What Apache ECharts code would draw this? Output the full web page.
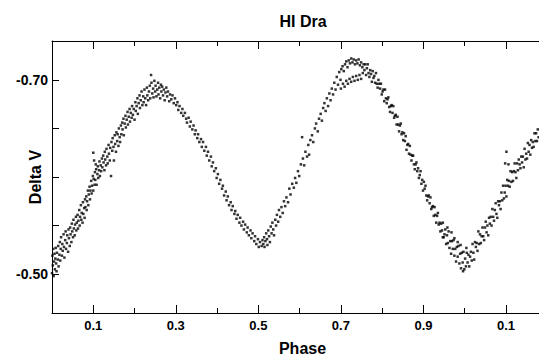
<!DOCTYPE html>
<html><head><meta charset="utf-8">
<script src="https://cdn.jsdelivr.net/npm/echarts@6/dist/echarts.min.js"></script>
<style>html,body{margin:0;padding:0;background:#fff}#c{width:539px;height:362px}</style>
</head><body><div id="c"></div>
<script>
const titleText = 'HI Dra';
const xName = 'Phase';
const yName = 'Delta V';
const xMajorTicks = [0.1, 0.3, 0.5, 0.7, 0.9, 1.1];
const xMinorTicks = [0.2, 0.4, 0.6, 0.8, 1.0];
const yTicks = [-0.70, -0.65, -0.60, -0.55, -0.50];
const yLabels = [-0.70, -0.50];

// [phase, delta V]
const riseToFirstMax = [
[0.000,-0.501],[0.001,-0.519],[0.002,-0.509],[0.003,-0.526],[0.004,-0.498],[0.005,-0.513],[0.006,-0.521],[0.007,-0.505],[0.008,-0.516],[0.009,-0.527],[0.010,-0.511],[0.011,-0.503],[0.012,-0.522],[0.014,-0.515],[0.015,-0.529],[0.016,-0.508],[0.018,-0.520],[0.019,-0.533],[0.020,-0.514],
[0.021,-0.526],[0.022,-0.538],[0.024,-0.519],[0.025,-0.531],[0.026,-0.524],[0.028,-0.541],[0.029,-0.528],[0.030,-0.517],[0.032,-0.535],[0.033,-0.544],[0.034,-0.526],[0.036,-0.532],[0.037,-0.540],[0.039,-0.523],[0.040,-0.546],
[0.041,-0.537],[0.043,-0.529],[0.044,-0.548],[0.045,-0.541],[0.047,-0.533],[0.048,-0.552],[0.049,-0.544],[0.051,-0.538],[0.052,-0.556],[0.053,-0.547],[0.055,-0.540],[0.056,-0.551],[0.058,-0.559],[0.059,-0.545],[0.060,-0.553],
[0.062,-0.561],[0.063,-0.547],[0.064,-0.555],[0.066,-0.566],[0.067,-0.550],[0.068,-0.559],[0.070,-0.571],[0.071,-0.556],[0.072,-0.563],[0.074,-0.553],[0.075,-0.574],[0.076,-0.562],[0.078,-0.568],[0.079,-0.558],[0.080,-0.577],
[0.081,-0.569],[0.083,-0.580],[0.084,-0.566],[0.085,-0.575],[0.087,-0.586],[0.088,-0.571],[0.089,-0.582],[0.091,-0.590],[0.092,-0.577],[0.093,-0.586],[0.095,-0.596],[0.096,-0.583],[0.097,-0.591],[0.099,-0.601],[0.100,-0.586],
[0.100,-0.625],[0.102,-0.617],[0.106,-0.613],
[0.101,-0.598],[0.103,-0.592],[0.104,-0.605],[0.105,-0.597],[0.107,-0.608],[0.108,-0.592],[0.110,-0.603],[0.111,-0.611],[0.112,-0.599],[0.114,-0.607],[0.115,-0.616],[0.116,-0.601],[0.118,-0.612],[0.119,-0.606],[0.121,-0.619],
[0.122,-0.610],[0.124,-0.622],[0.125,-0.615],[0.127,-0.607],[0.128,-0.626],[0.129,-0.618],[0.131,-0.612],[0.132,-0.629],[0.134,-0.621],[0.135,-0.614],[0.137,-0.633],[0.138,-0.624],[0.140,-0.617],[0.141,-0.630],[0.143,-0.601],
[0.144,-0.636],[0.146,-0.627],[0.147,-0.640],[0.149,-0.631],[0.150,-0.617],[0.152,-0.643],[0.153,-0.634],[0.155,-0.626],[0.156,-0.646],[0.158,-0.637],[0.159,-0.644],[0.161,-0.632],[0.162,-0.650],[0.164,-0.641],[0.165,-0.636],[0.167,-0.653],
[0.168,-0.644],[0.170,-0.656],[0.171,-0.649],[0.173,-0.660],[0.174,-0.643],[0.176,-0.655],[0.178,-0.663],[0.179,-0.651],[0.181,-0.659],[0.183,-0.667],[0.184,-0.654],[0.186,-0.662],[0.188,-0.670],[0.189,-0.657],[0.191,-0.666],[0.193,-0.661],[0.194,-0.673],[0.196,-0.664],[0.198,-0.670],[0.200,-0.659],
[0.202,-0.677],[0.203,-0.668],[0.205,-0.673],[0.207,-0.681],[0.208,-0.665],[0.210,-0.676],[0.212,-0.684],[0.213,-0.671],[0.215,-0.679],[0.217,-0.688],[0.219,-0.674],[0.221,-0.683],[0.222,-0.677],[0.224,-0.690],[0.226,-0.681],[0.228,-0.674],[0.230,-0.692],[0.231,-0.684],[0.233,-0.679],[0.235,-0.688]
];
const firstMaximum = [
[0.237,-0.694],[0.238,-0.681],[0.240,-0.705],[0.241,-0.697],[0.243,-0.686],[0.245,-0.691],[0.246,-0.682],[0.248,-0.699],[0.250,-0.688],[0.251,-0.694],[0.253,-0.683],[0.255,-0.690],[0.257,-0.697],[0.258,-0.685],[0.260,-0.692],[0.262,-0.681],[0.264,-0.695],[0.265,-0.688],[0.267,-0.693],[0.269,-0.684],[0.271,-0.690],[0.273,-0.679],[0.275,-0.687],[0.277,-0.692],[0.279,-0.683],[0.281,-0.688],[0.284,-0.678],[0.286,-0.685],[0.289,-0.680],[0.292,-0.684],[0.295,-0.676],[0.298,-0.681]
];
const fallToSecondMin = [
[0.301,-0.674],[0.304,-0.677],[0.306,-0.669],[0.309,-0.673],[0.313,-0.666],[0.316,-0.670],[0.318,-0.663],[0.322,-0.666],[0.325,-0.660],[0.327,-0.656],[0.331,-0.661],[0.334,-0.652],[0.336,-0.657],[0.340,-0.649],[0.343,-0.653],[0.346,-0.644],[0.348,-0.648],[0.352,-0.640],[0.354,-0.644],[0.357,-0.636],[0.361,-0.639],[0.363,-0.631],[0.366,-0.636],[0.369,-0.627],[0.373,-0.631],[0.375,-0.622],[0.378,-0.626],[0.381,-0.617],[0.385,-0.621],[0.387,-0.611],[0.390,-0.615],[0.393,-0.606],[0.397,-0.609],[0.399,-0.599],[0.402,-0.603],[0.405,-0.593],[0.408,-0.597],[0.412,-0.588],[0.414,-0.591],[0.417,-0.581],[0.421,-0.585],[0.423,-0.576],[0.426,-0.580],[0.429,-0.571],[0.433,-0.574],[0.435,-0.566],[0.438,-0.570],[0.442,-0.562],[0.444,-0.565],[0.447,-0.557],[0.450,-0.561],[0.454,-0.553],[0.456,-0.558],[0.459,-0.550],[0.463,-0.554],[0.465,-0.546],[0.468,-0.551],[0.472,-0.543],[0.474,-0.548],[0.477,-0.540],[0.481,-0.545],[0.483,-0.537],[0.486,-0.542],[0.490,-0.534],[0.492,-0.539],[0.495,-0.531],[0.499,-0.536],[0.501,-0.528],[0.504,-0.533],[0.508,-0.529],[0.510,-0.535]
];
const riseToSecondMax = [
[0.512,-0.531],[0.514,-0.538],[0.515,-0.528],[0.517,-0.534],[0.519,-0.542],[0.521,-0.536],[0.522,-0.530],[0.524,-0.545],[0.526,-0.539],[0.528,-0.533],[0.530,-0.549],[0.532,-0.542],[0.534,-0.553],[0.536,-0.546],[0.538,-0.540],[0.541,-0.556],[0.543,-0.550],[0.545,-0.561],[0.548,-0.554],[0.550,-0.566],[0.553,-0.559],[0.556,-0.569],[0.559,-0.563],[0.562,-0.575],[0.565,-0.570],[0.568,-0.579],[0.572,-0.574],[0.575,-0.588],[0.578,-0.582],[0.582,-0.593],[0.586,-0.589],[0.589,-0.599],[0.592,-0.594],[0.596,-0.606],[0.599,-0.601],[0.603,-0.613],[0.606,-0.641],[0.608,-0.619],[0.611,-0.612],[0.614,-0.626],[0.618,-0.621],[0.621,-0.633],[0.623,-0.623],[0.626,-0.638],[0.630,-0.643],[0.633,-0.636],[0.637,-0.650],[0.640,-0.655],[0.644,-0.647],[0.647,-0.660],[0.651,-0.665],[0.654,-0.658],[0.657,-0.671],[0.660,-0.676],[0.663,-0.668],[0.666,-0.681],[0.669,-0.673],[0.672,-0.686],[0.675,-0.679],[0.678,-0.691],[0.681,-0.685],[0.684,-0.697],[0.687,-0.690],[0.690,-0.703],[0.693,-0.695],[0.696,-0.708],[0.699,-0.700]
];
const secondMaxUpper = [
[0.701,-0.711],[0.704,-0.714],[0.707,-0.709],[0.710,-0.716],[0.713,-0.719],[0.716,-0.713],[0.719,-0.720],[0.722,-0.717],[0.725,-0.722],[0.728,-0.718],[0.731,-0.721],[0.734,-0.716],[0.737,-0.720],[0.740,-0.717],[0.743,-0.721],[0.746,-0.715],[0.749,-0.718],[0.752,-0.713],[0.755,-0.716]
];
const secondMaxLower = [
[0.700,-0.691],[0.705,-0.696],[0.709,-0.693],[0.713,-0.699],[0.717,-0.696],[0.721,-0.701],[0.725,-0.698],[0.729,-0.703],[0.733,-0.699],[0.737,-0.704],[0.741,-0.700],[0.745,-0.705],[0.749,-0.701],[0.753,-0.707]
];
const fallToPrimaryMin = [
[0.757,-0.710],[0.759,-0.716],[0.761,-0.705],[0.763,-0.712],[0.765,-0.716],[0.767,-0.707],[0.769,-0.703],[0.771,-0.710],[0.773,-0.706],[0.775,-0.698],[0.777,-0.709],[0.779,-0.702],[0.781,-0.704],[0.783,-0.697],[0.785,-0.707],[0.787,-0.696],[0.789,-0.692],[0.791,-0.700],[0.793,-0.696],[0.795,-0.691],[0.797,-0.696],[0.799,-0.685],[0.801,-0.688],[0.803,-0.690],[0.805,-0.678],[0.807,-0.690],[0.809,-0.681],[0.811,-0.676],[0.813,-0.680],[0.815,-0.682],[0.817,-0.672],[0.819,-0.667],[0.821,-0.673],[0.823,-0.674],[0.825,-0.666],[0.827,-0.673],[0.829,-0.661],[0.831,-0.663],[0.833,-0.664],[0.835,-0.654],[0.837,-0.662],[0.839,-0.654],[0.841,-0.647],[0.843,-0.653],[0.845,-0.655],[0.847,-0.644],[0.849,-0.646],[0.851,-0.638],[0.853,-0.645],[0.855,-0.637],[0.857,-0.642],[0.859,-0.628],[0.861,-0.633],[0.863,-0.634],[0.865,-0.624],[0.867,-0.632],[0.869,-0.623],[0.871,-0.617],[0.873,-0.622],[0.875,-0.622],[0.877,-0.613],[0.879,-0.608],[0.881,-0.613],[0.883,-0.615],[0.885,-0.606],[0.887,-0.609],[0.889,-0.599],[0.891,-0.602],[0.893,-0.606],[0.895,-0.593],[0.897,-0.597],[0.899,-0.586],[0.901,-0.595],[0.903,-0.588],[0.905,-0.591],[0.907,-0.581],[0.909,-0.576],[0.911,-0.580],[0.913,-0.581],[0.915,-0.573],[0.917,-0.579],[0.919,-0.567],[0.921,-0.569],[0.923,-0.570],[0.925,-0.560],[0.927,-0.569],[0.929,-0.561],[0.931,-0.553],[0.933,-0.560],[0.935,-0.563],[0.937,-0.551],[0.939,-0.553],[0.941,-0.544],[0.943,-0.552],[0.945,-0.545],[0.947,-0.553],[0.949,-0.538],[0.951,-0.541],[0.953,-0.546],[0.955,-0.531],[0.957,-0.540],[0.959,-0.532],[0.961,-0.544],[0.963,-0.527],[0.965,-0.534],[0.967,-0.521],[0.969,-0.534],[0.971,-0.526],[0.973,-0.535],[0.975,-0.519],[0.977,-0.526],[0.979,-0.513],[0.981,-0.528],[0.983,-0.518],[0.985,-0.529],[0.987,-0.511],[0.989,-0.521],[0.991,-0.506],[0.993,-0.522],[0.995,-0.512],[0.997,-0.523],[0.999,-0.505],[1.001,-0.516],[1.003,-0.508],[1.005,-0.522],[1.007,-0.512],[1.009,-0.520],[1.011,-0.508],[1.013,-0.518],
[0.968,-0.543],[0.975,-0.537],[0.983,-0.533],[0.990,-0.530],[0.996,-0.503],[1.004,-0.527],[0.958,-0.548],[0.947,-0.538]
];
const riseAfterPrimaryMin = [
[1.015,-0.523],[1.017,-0.514],[1.019,-0.531],[1.021,-0.522],[1.023,-0.515],[1.025,-0.533],[1.027,-0.528],[1.029,-0.532],[1.031,-0.524],[1.033,-0.544],[1.035,-0.531],[1.037,-0.541],[1.039,-0.532],[1.041,-0.539],[1.043,-0.548],[1.045,-0.539],[1.047,-0.535],[1.049,-0.548],[1.051,-0.554],[1.053,-0.543],[1.055,-0.550],[1.057,-0.540],[1.059,-0.558],[1.061,-0.552],[1.063,-0.559],[1.065,-0.550],[1.067,-0.567],[1.069,-0.559],[1.071,-0.555],[1.073,-0.566],[1.075,-0.573],[1.077,-0.562],[1.079,-0.558],[1.081,-0.575],[1.083,-0.571],[1.085,-0.575],[1.087,-0.567],[1.089,-0.584],[1.091,-0.576],[1.093,-0.591],[1.095,-0.578],[1.097,-0.584],[1.099,-0.591],[1.101,-0.626],[1.101,-0.580],[1.098,-0.614],[1.106,-0.613],[1.103,-0.597],[1.105,-0.591],[1.107,-0.596],[1.109,-0.590],[1.111,-0.606],[1.113,-0.595],[1.115,-0.605],[1.117,-0.596],[1.119,-0.606],[1.121,-0.614],[1.123,-0.605],[1.125,-0.599],[1.127,-0.614],[1.129,-0.607],[1.131,-0.618],[1.133,-0.613],[1.135,-0.609],[1.137,-0.621],[1.139,-0.615],[1.141,-0.621],[1.143,-0.610],[1.145,-0.629],[1.147,-0.618],[1.149,-0.624],[1.151,-0.619],[1.153,-0.635],[1.155,-0.626],[1.157,-0.633],[1.159,-0.623],[1.161,-0.638],[1.163,-0.630],[1.165,-0.636],[1.167,-0.631],[1.169,-0.645],[1.171,-0.637],[1.173,-0.645],[1.175,-0.637],[1.177,-0.649],[1.179,-0.641]
];

const points = [].concat(riseToFirstMax, firstMaximum, fallToSecondMin, riseToSecondMax,
  secondMaxUpper, secondMaxLower, fallToPrimaryMin, riseAfterPrimaryMin);

const FONT = '"Liberation Sans", Arial, Helvetica, sans-serif';
const black = '#000';
const xBase = { type: 'value', min: 0, max: 1.18, splitLine: { show: false }, gridIndex: 0 };

const chart = echarts.init(document.getElementById('c'), null, { renderer: 'svg' });
chart.setOption({
  animation: false,
  backgroundColor: '#fff',
  title: {
    text: titleText, left: 298, top: 8, textAlign: 'center',
    textStyle: { fontFamily: FONT, fontWeight: 'bold', fontSize: 16, color: black }
  },
  grid: { left: 52, right: 0, top: 41, bottom: 49, containLabel: false, outerBoundsMode: 'none' },
  xAxis: [
    Object.assign({}, xBase, {
      position: 'bottom', name: xName, nameLocation: 'middle', nameGap: 27, nameMoveOverlap: false,
      nameTextStyle: { fontFamily: FONT, fontWeight: 'bold', fontSize: 16, color: black, padding: [0, 0, 0, 14] },
      axisLine: { show: true, lineStyle: { color: black, width: 1 } },
      axisTick: { show: true, inside: true, length: 8, customValues: xMajorTicks, lineStyle: { color: black, width: 1 } },
      axisLabel: { show: true, customValues: xMajorTicks, margin: 6,
        formatter: function (v) { return (v > 1 ? v - 1 : v).toFixed(1); },
        fontFamily: FONT, fontWeight: 'bold', fontSize: 13, color: black }
    }),
    Object.assign({}, xBase, {
      position: 'bottom',
      axisLine: { show: false },
      axisTick: { show: true, inside: true, length: 5, customValues: xMinorTicks, lineStyle: { color: black, width: 1 } },
      axisLabel: { show: false }
    }),
    Object.assign({}, xBase, {
      position: 'top',
      axisLine: { show: true, lineStyle: { color: black, width: 1 } },
      axisTick: { show: true, inside: true, length: 8, customValues: xMajorTicks, lineStyle: { color: black, width: 1 } },
      axisLabel: { show: false }
    }),
    Object.assign({}, xBase, {
      position: 'top',
      axisLine: { show: false },
      axisTick: { show: true, inside: true, length: 5, customValues: xMinorTicks, lineStyle: { color: black, width: 1 } },
      axisLabel: { show: false }
    })
  ],
  yAxis: {
    type: 'value', inverse: true, min: -0.74, max: -0.46, position: 'left',
    name: yName, nameLocation: 'middle', nameGap: 9, nameRotate: 90, nameMoveOverlap: false,
    nameTextStyle: { fontFamily: FONT, fontWeight: 'bold', fontSize: 16, color: black },
    splitLine: { show: false },
    axisLine: { show: true, lineStyle: { color: black, width: 1 } },
    axisTick: { show: true, inside: true, length: 7, customValues: yTicks, lineStyle: { color: black, width: 1 } },
    axisLabel: { show: true, customValues: yLabels, margin: 4,
      formatter: function (v) { return v.toFixed(2); },
      fontFamily: FONT, fontWeight: 'bold', fontSize: 14, color: black }
  },
  series: [{
    type: 'scatter', xAxisIndex: 0, yAxisIndex: 0, data: points,
    symbol: 'rect', symbolSize: 2.5, silent: true,
    itemStyle: { color: black }
  }]
});
</script>
</body></html>
